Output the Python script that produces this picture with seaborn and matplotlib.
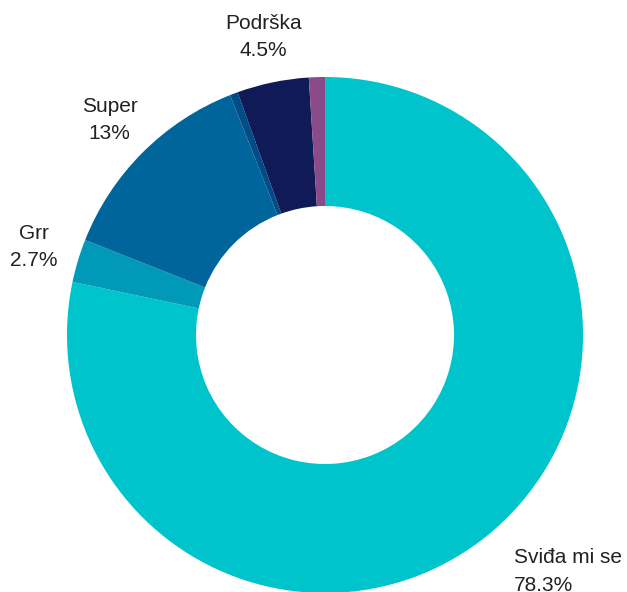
import matplotlib
matplotlib.use("Agg")
import numpy as np
import matplotlib.pyplot as plt
import seaborn as sns

# Data (clockwise from 12 o'clock)
labels = ["Sviđa mi se", "Grr", "Super", "", "Podrška", ""]
shares = [78.3, 2.7, 13.0, 0.5, 4.5, 1.0]
label_text = ["Sviđa mi se\n78.3%", "Grr\n2.7%", "Super\n13%", "", "Podrška\n4.5%", ""]
colors = ["#00c4cc", "#0099b8", "#00659b", "#004c86", "#101a56", "#8b4a88"]

sns.set_theme(style="white")
plt.rcParams["font.family"] = ["Liberation Sans", "DejaVu Sans"]

fig = plt.figure(figsize=(6.27, 5.92), dpi=100)
ax = fig.add_axes([0, 0, 1, 1])

wedges, _ = ax.pie(
    shares,
    colors=colors,
    startangle=90,
    counterclock=False,
    radius=1.0,
    wedgeprops=dict(width=0.5, linewidth=0),
)

# place labels outside the ring at each wedge's mid angle
for w, txt in zip(wedges, label_text):
    if not txt:
        continue
    ang = np.deg2rad((w.theta1 + w.theta2) / 2)
    x, y = 1.18 * np.cos(ang), 1.18 * np.sin(ang)
    ha = "left" if x > 0.3 else "center"
    if ha == "left":
        x -= 0.01
    ax.text(x, y, txt, ha=ha, va="center", fontsize=15, color="#222222",
            linespacing=1.55)

# map the pie so its centre sits where the reference has it
r_px = 258
ax.set_xlim(-325 / r_px, (627 - 325) / r_px)
ax.set_ylim(-(592 - 335) / r_px, 335 / r_px)
ax.set_aspect("auto")
ax.axis("off")

plt.savefig("out.png", dpi=100)
